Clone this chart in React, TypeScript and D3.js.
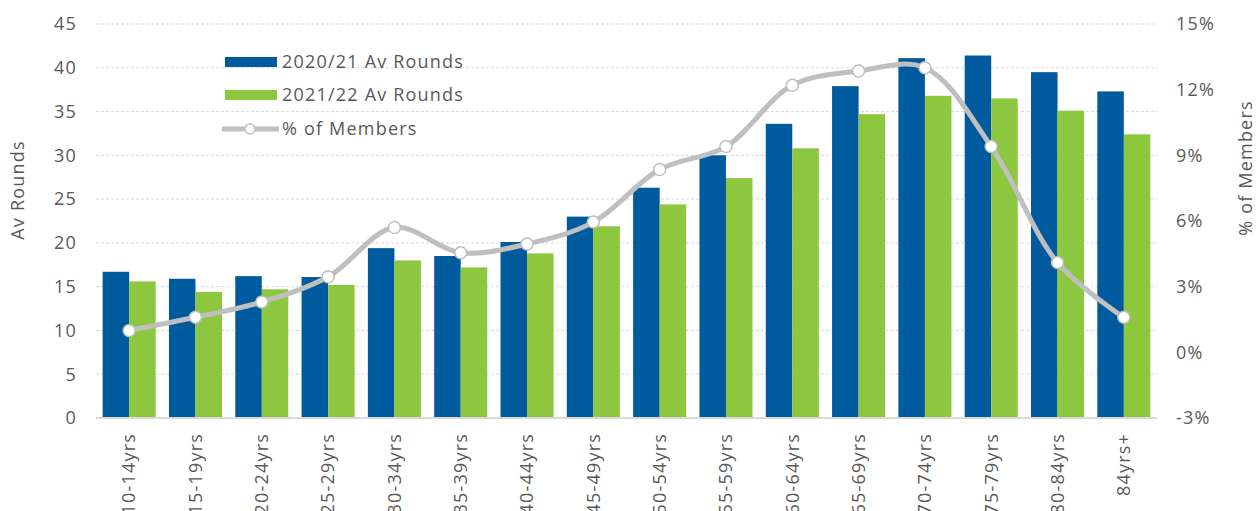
import React from "react";
import * as d3 from "d3";

const categories = ["10-14yrs","15-19yrs","20-24yrs","25-29yrs","30-34yrs","35-39yrs","40-44yrs","45-49yrs","50-54yrs","55-59yrs","60-64yrs","65-69yrs","70-74yrs","75-79yrs","80-84yrs","84yrs+"];
const rounds2021 = [16.7,15.9,16.2,16.1,19.4,18.5,20.1,23.0,26.3,30.0,33.6,37.9,41.1,41.4,39.5,37.3];
const rounds2122 = [15.6,14.4,14.7,15.2,18.0,17.2,18.8,21.9,24.4,27.4,30.8,34.7,36.8,36.5,35.1,32.4];
const pctMembers = [1.0,1.6,2.3,3.45,5.7,4.55,4.95,5.95,8.35,9.4,12.2,12.85,13.0,9.4,4.1,1.6];
const leftTicks = [0,5,10,15,20,25,30,35,40,45];
const rightTicks = [-3,0,3,6,9,12,15];
const seriesNames = ["2020/21 Av Rounds","2021/22 Av Rounds","% of Members"];

const W = 1256, H = 511;
const BLUE = "#005A9E", GREEN = "#8DC63F", GREY = "#BFBFBF", TEXT = "#595959";
const FONT = "'Open Sans', sans-serif";
const LS = 1.2;

export default function App() {
  const x0 = d3.scaleBand().domain(categories).range([96, 1157]).paddingInner(0.2).paddingOuter(0.1);
  const x1 = d3.scaleBand().domain(["a","b"]).range([0, x0.bandwidth()]);
  const yL = d3.scaleLinear().domain([0,45]).range([418,24]);
  const yR = d3.scaleLinear().domain([-3,15]).range([418,24]);
  const cx = (c: string) => (x0(c) as number) + x0.bandwidth()/2;
  const line = d3.line<number>().x((_, i) => cx(categories[i])).y(d => yR(d)).curve(d3.curveCatmullRom.alpha(0.5));
  return (
    <svg width={W} height={H} style={{position:"absolute",left:0,top:0,background:"#fff"}} fontFamily={FONT} letterSpacing={LS}>
      {leftTicks.map(t => (
        <g key={"gl"+t}>
          {t>0 && <line x1={96} x2={1157} y1={yL(t)} y2={yL(t)} stroke="#d9d9d9" strokeWidth={1} strokeDasharray="3,2" />}
          <text x={77} y={yL(t)} dy="0.35em" textAnchor="end" fontSize={18} fill={TEXT}>{t}</text>
        </g>
      ))}
      {rightTicks.map(t => (
        <text key={"r"+t} x={1176} y={yR(t)} dy="0.35em" textAnchor="start" fontSize={18} fill={TEXT}>{t}%</text>
      ))}
      {categories.map((c,i) => (
        <g key={c}>
          <rect x={(x0(c) as number)+(x1("a") as number)} y={yL(rounds2021[i])} width={x1.bandwidth()} height={418-yL(rounds2021[i])} fill={BLUE} />
          <rect x={(x0(c) as number)+(x1("b") as number)} y={yL(rounds2122[i])} width={x1.bandwidth()} height={418-yL(rounds2122[i])} fill={GREEN} />
          <text transform={`translate(${cx(c)},433) rotate(-90)`} dy="0.35em" textAnchor="end" fontSize={18} fill={TEXT}>{c}</text>
        </g>
      ))}
      <line x1={96} x2={1157} y1={418} y2={418} stroke="#d9d9d9" strokeWidth={2} />
      <path d={line(pctMembers) || ""} fill="none" stroke={GREY} strokeWidth={5} />
      {pctMembers.map((p,i) => (
        <circle key={"m"+i} cx={cx(categories[i])} cy={yR(p)} r={6} fill="#fff" stroke={GREY} strokeWidth={1.5} />
      ))}
      <text transform="translate(18,190) rotate(-90)" dy="0.35em" textAnchor="middle" fontSize={18} fill={TEXT}>Av Rounds</text>
      <text transform="translate(1246,168) rotate(-90)" dy="0.35em" textAnchor="middle" fontSize={18} fill={TEXT}>% of Members</text>
      <g>
        <rect x={225} y={57} width={52} height={10} fill={BLUE} />
        <text x={282} y={62} dy="0.35em" fontSize={18} fill={TEXT}>{seriesNames[0]}</text>
        <rect x={225} y={90} width={52} height={10} fill={GREEN} />
        <text x={282} y={95} dy="0.35em" fontSize={18} fill={TEXT}>{seriesNames[1]}</text>
        <line x1={222} x2={279} y1={129} y2={129} stroke={GREY} strokeWidth={5} />
        <circle cx={250} cy={129} r={5} fill="#fff" stroke={GREY} strokeWidth={1.5} />
        <text x={282} y={129} dy="0.35em" fontSize={18} fill={TEXT}>{seriesNames[2]}</text>
      </g>
    </svg>
  );
}
